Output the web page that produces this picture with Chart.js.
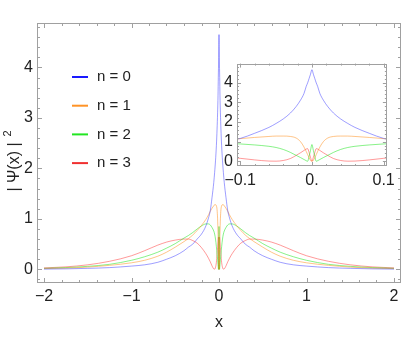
<!DOCTYPE html>
<html>
<head>
<meta charset="utf-8">
<script src="https://cdn.jsdelivr.net/npm/chart.js@4/dist/chart.umd.min.js"></script>
<style>
    body { margin: 0; background: #fff; }
    #wrap { position: relative; width: 409px; height: 354px; }
    #main { position: absolute; left: 0; top: 0; }
    #inset { position: absolute; left: 200px; top: 50px; }
</style>
</head>
<body>
<div id="wrap">
    <canvas id="main" width="409" height="354"></canvas>
    <canvas id="inset" width="200" height="150"></canvas>
</div>
<script>
// valores
var xs = [-2, -1.75, -1.5, -1.25, -1, -0.85, -0.7, -0.6, -0.5, -0.4, -0.35, -0.3, -0.25, -0.2, -0.15,
    -0.12, -0.1, -0.08, -0.06, -0.05, -0.04, -0.03, -0.022, -0.016, -0.011, -0.008, -0.006, -0.004, -0.002, 0,
    0.002, 0.004, 0.006, 0.008, 0.011, 0.016, 0.022, 0.03, 0.04, 0.05, 0.06, 0.08, 0.1, 0.12,
    0.15, 0.2, 0.25, 0.3, 0.35, 0.4, 0.5, 0.6, 0.7, 0.85, 1, 1.25, 1.5, 1.75, 2];

var psi0 = [0.005, 0.01, 0.02, 0.035, 0.065, 0.09, 0.14, 0.2, 0.27, 0.37, 0.44, 0.5, 0.6, 0.7, 0.86,
    1.02, 1.16, 1.42, 1.72, 1.92, 2.15, 2.45, 2.78, 3.1, 3.45, 3.8, 3.98, 4.2, 4.42, 4.65,
    4.42, 4.2, 3.98, 3.8, 3.45, 3.1, 2.78, 2.45, 2.15, 1.92, 1.72, 1.42, 1.16, 1.02,
    0.86, 0.7, 0.6, 0.5, 0.44, 0.37, 0.27, 0.2, 0.14, 0.09, 0.065, 0.035, 0.02, 0.01, 0.005];

var psi1 = [0.015, 0.025, 0.045, 0.08, 0.13, 0.18, 0.26, 0.34, 0.44, 0.55, 0.61, 0.68, 0.77, 0.87, 0.99,
    1.08, 1.15, 1.21, 1.26, 1.28, 1.28, 1.26, 1.18, 1.0, 0.72, 0.5, 0.34, 0.18, 0.05, 0,
    0.05, 0.18, 0.34, 0.5, 0.72, 1.0, 1.18, 1.26, 1.28, 1.28, 1.26, 1.21, 1.15, 1.08,
    0.99, 0.87, 0.77, 0.68, 0.61, 0.55, 0.44, 0.34, 0.26, 0.18, 0.13, 0.08, 0.045, 0.025, 0.015];

var psi2 = [0.02, 0.035, 0.06, 0.1, 0.18, 0.25, 0.34, 0.42, 0.51, 0.62, 0.67, 0.73, 0.8, 0.86, 0.9,
    0.9, 0.88, 0.83, 0.76, 0.7, 0.6, 0.45, 0.3, 0.19, 0.09, 0.03, 0, 0.25, 0.55, 0.85,
    0.55, 0.25, 0, 0.03, 0.09, 0.19, 0.3, 0.45, 0.6, 0.7, 0.76, 0.83, 0.88, 0.9,
    0.9, 0.86, 0.8, 0.73, 0.67, 0.62, 0.51, 0.42, 0.34, 0.25, 0.18, 0.1, 0.06, 0.035, 0.02];

var psi3 = [0.03, 0.05, 0.09, 0.16, 0.27, 0.37, 0.48, 0.54, 0.58, 0.6, 0.6, 0.57, 0.52, 0.43, 0.31,
    0.22, 0.15, 0.07, 0.01, 0.005, 0.04, 0.14, 0.3, 0.43, 0.55, 0.62, 0.64, 0.45, 0.2, 0,
    0.2, 0.45, 0.64, 0.62, 0.55, 0.43, 0.3, 0.14, 0.04, 0.005, 0.01, 0.07, 0.15, 0.22,
    0.31, 0.43, 0.52, 0.57, 0.6, 0.6, 0.58, 0.54, 0.48, 0.37, 0.27, 0.16, 0.09, 0.05, 0.03];

var seriesNames = ['n = 0', 'n = 1', 'n = 2', 'n = 3'];
var xTicks = [-2, -1, 0, 1, 2];
var yTicks = [0, 1, 2, 3, 4];
var insetXTicks = [-0.1, 0, 0.1];
var insetYTicks = [0, 1, 2, 3, 4];

var FONT = "'Liberation Sans', Arial, sans-serif";
var TEXT = '#222';
var lineColors = ['rgba(40,40,255,0.45)', 'rgba(255,140,20,0.5)', 'rgba(20,230,20,0.5)', 'rgba(255,30,30,0.45)'];
var keyColors = ['#1a1aff', '#ff9326', '#22e622', '#f03030'];

function points(ys) {
    return xs.map(function (x, i) { return { x: x, y: ys[i] }; });
}

function makeDatasets() {
    return [psi0, psi1, psi2, psi3].map(function (ys, i) {
        return {
            label: seriesNames[i],
            data: points(ys),
            showLine: true,
            borderColor: lineColors[i],
            borderWidth: 1,
            pointRadius: 0,
            cubicInterpolationMode: 'monotone'
        };
    });
}

function minus(v) {
    return v < 0 ? '\u2212' + Math.abs(v) : String(v);
}

// marco con marcas hacia dentro, estilo Mathematica
var framePlugin = {
    id: 'frame',
    afterDraw: function (chart, args, o) {
        var ctx = chart.ctx, a = chart.chartArea;
        var sx = chart.scales.x, sy = chart.scales.y;
        ctx.save();
        ctx.strokeStyle = '#a0a0a0';
        ctx.lineWidth = 1;
        ctx.strokeRect(Math.round(a.left) + 0.5, Math.round(a.top) + 0.5,
            Math.round(a.right - a.left) - 1, Math.round(a.bottom - a.top) - 1);
        ctx.beginPath();
        var k, v, p, len;
        for (k = Math.ceil(sx.min / o.xStep - 1e-6); k * o.xStep <= sx.max + 1e-9; k++) {
            v = k * o.xStep;
            len = Math.abs(v / o.xMajor - Math.round(v / o.xMajor)) < 1e-6 ? o.major : o.minor;
            p = Math.round(sx.getPixelForValue(v)) + 0.5;
            ctx.moveTo(p, a.bottom); ctx.lineTo(p, a.bottom - len);
            ctx.moveTo(p, a.top); ctx.lineTo(p, a.top + len);
        }
        for (k = Math.ceil(sy.min / o.yStep - 1e-6); k * o.yStep <= sy.max + 1e-9; k++) {
            v = k * o.yStep;
            len = Math.abs(v / o.yMajor - Math.round(v / o.yMajor)) < 1e-6 ? o.major : o.minor;
            p = Math.round(sy.getPixelForValue(v)) + 0.5;
            ctx.moveTo(a.left, p); ctx.lineTo(a.left + len, p);
            ctx.moveTo(a.right, p); ctx.lineTo(a.right - len, p);
        }
        ctx.stroke();
        ctx.restore();
    }
};

// leyenda y titulos de ejes
var keyPlugin = {
    id: 'key',
    afterDraw: function (chart) {
        var ctx = chart.ctx;
        ctx.save();
        ctx.font = '15px ' + FONT;
        ctx.textBaseline = 'middle';
        chart.data.datasets.forEach(function (ds, i) {
            var y = 77 + i * 28.7;
            ctx.strokeStyle = keyColors[i];
            ctx.lineWidth = 2;
            ctx.beginPath();
            ctx.moveTo(72, y); ctx.lineTo(88, y);
            ctx.stroke();
            ctx.fillStyle = TEXT;
            ctx.textAlign = 'left';
            ctx.fillText(ds.label, 97, y);
        });
        ctx.font = '16px ' + FONT;
        ctx.textAlign = 'center';
        ctx.fillText('x', 219, 323);
        // |Psi(x)|^2 girado
        ctx.translate(15, 161);
        ctx.rotate(-Math.PI / 2);
        var main = '| \u03A8(x) |';
        var w = ctx.measureText(main).width;
        ctx.textAlign = 'left';
        ctx.fillText(main, -w / 2 - 6, 0);
        ctx.font = '11px ' + FONT;
        ctx.fillText('2', w / 2, -7);
        ctx.restore();
    }
};

function axis(min, max, tickList, fit, fmt, pad) {
    return {
        type: 'linear',
        min: min,
        max: max,
        afterBuildTicks: function (s) { s.ticks = tickList.map(function (v) { return { value: v }; }); },
        afterFit: fit,
        grid: { display: false, drawTicks: false },
        border: { display: false },
        ticks: {
            padding: pad, color: TEXT, maxRotation: 0, autoSkip: false,
            font: { family: FONT, size: 16 },
            callback: fmt
        }
    };
}

var mainChart = new Chart(document.getElementById('main').getContext('2d'), {
    type: 'scatter',
    data: { datasets: makeDatasets() },
    options: {
        responsive: false,
        animation: false,
        events: [],
        layout: { padding: { left: 0, top: 23, right: 8, bottom: 0 } },
        scales: {
            x: axis(-2.08, 2.08, xTicks, function (s) { s.height = 71; }, minus, 4),
            y: axis(-0.27, 4.88, yTicks, function (s) { s.width = 37; }, minus, 4)
        },
        plugins: {
            legend: { display: false },
            tooltip: { enabled: false },
            frame: { xStep: 0.2, xMajor: 1, yStep: 0.2, yMajor: 1, major: 5, minor: 3 }
        }
    },
    plugins: [framePlugin, keyPlugin]
});

var insetChart = new Chart(document.getElementById('inset').getContext('2d'), {
    type: 'scatter',
    data: { datasets: makeDatasets() },
    options: {
        responsive: false,
        animation: false,
        events: [],
        layout: { padding: { left: 0, top: 8, right: 11, bottom: 0 } },
        scales: {
            x: axis(-0.1045, 0.1045, insetXTicks, function (s) { s.height = 34; },
                function (v) { return v === 0 ? '0.' : minus(v); }, 5),
            y: axis(-0.24, 4.96, insetYTicks, function (s) { s.width = 37; }, minus, 4)
        },
        plugins: {
            legend: { display: false },
            tooltip: { enabled: false },
            frame: { xStep: 0.02, xMajor: 0.1, yStep: 0.2, yMajor: 1, major: 4, minor: 2 }
        }
    },
    plugins: [framePlugin]
});
</script>
</body>
</html>
